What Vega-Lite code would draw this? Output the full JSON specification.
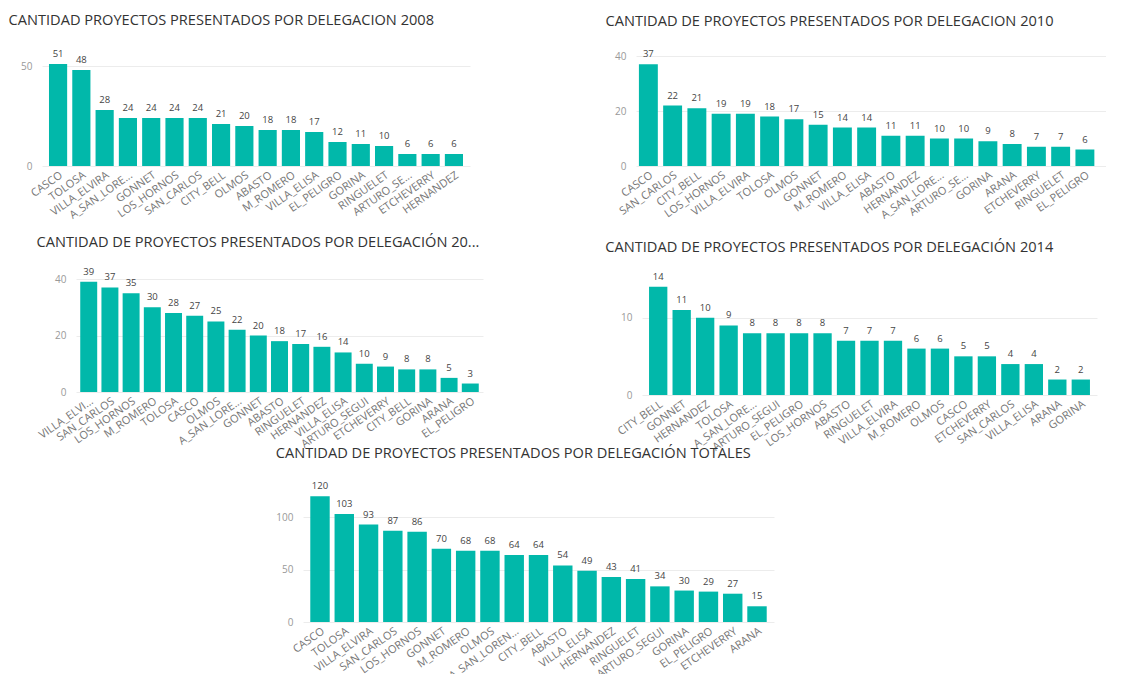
{
  "$schema": "https://vega.github.io/schema/vega-lite/v6.json",
  "padding": {"left": 8, "top": 13, "right": 0, "bottom": 0},
  "background": "white",
  "datasets": {
    "y2008": [
      {"delegacion": "CASCO", "proyectos": 51},
      {"delegacion": "TOLOSA", "proyectos": 48},
      {"delegacion": "VILLA_ELVIRA", "proyectos": 28},
      {"delegacion": "A_SAN_LORENZO", "proyectos": 24},
      {"delegacion": "GONNET", "proyectos": 24},
      {"delegacion": "LOS_HORNOS", "proyectos": 24},
      {"delegacion": "SAN_CARLOS", "proyectos": 24},
      {"delegacion": "CITY_BELL", "proyectos": 21},
      {"delegacion": "OLMOS", "proyectos": 20},
      {"delegacion": "ABASTO", "proyectos": 18},
      {"delegacion": "M_ROMERO", "proyectos": 18},
      {"delegacion": "VILLA_ELISA", "proyectos": 17},
      {"delegacion": "EL_PELIGRO", "proyectos": 12},
      {"delegacion": "GORINA", "proyectos": 11},
      {"delegacion": "RINGUELET", "proyectos": 10},
      {"delegacion": "ARTURO_SEGUI", "proyectos": 6},
      {"delegacion": "ETCHEVERRY", "proyectos": 6},
      {"delegacion": "HERNANDEZ", "proyectos": 6}
    ],
    "y2010": [
      {"delegacion": "CASCO", "proyectos": 37},
      {"delegacion": "SAN_CARLOS", "proyectos": 22},
      {"delegacion": "CITY_BELL", "proyectos": 21},
      {"delegacion": "LOS_HORNOS", "proyectos": 19},
      {"delegacion": "VILLA_ELVIRA", "proyectos": 19},
      {"delegacion": "TOLOSA", "proyectos": 18},
      {"delegacion": "OLMOS", "proyectos": 17},
      {"delegacion": "GONNET", "proyectos": 15},
      {"delegacion": "M_ROMERO", "proyectos": 14},
      {"delegacion": "VILLA_ELISA", "proyectos": 14},
      {"delegacion": "ABASTO", "proyectos": 11},
      {"delegacion": "HERNANDEZ", "proyectos": 11},
      {"delegacion": "A_SAN_LORENZO", "proyectos": 10},
      {"delegacion": "ARTURO_SEGUI", "proyectos": 10},
      {"delegacion": "GORINA", "proyectos": 9},
      {"delegacion": "ARANA", "proyectos": 8},
      {"delegacion": "ETCHEVERRY", "proyectos": 7},
      {"delegacion": "RINGUELET", "proyectos": 7},
      {"delegacion": "EL_PELIGRO", "proyectos": 6}
    ],
    "y2012": [
      {"delegacion": "VILLA_ELVIRA", "proyectos": 39},
      {"delegacion": "SAN_CARLOS", "proyectos": 37},
      {"delegacion": "LOS_HORNOS", "proyectos": 35},
      {"delegacion": "M_ROMERO", "proyectos": 30},
      {"delegacion": "TOLOSA", "proyectos": 28},
      {"delegacion": "CASCO", "proyectos": 27},
      {"delegacion": "OLMOS", "proyectos": 25},
      {"delegacion": "A_SAN_LORENZO", "proyectos": 22},
      {"delegacion": "GONNET", "proyectos": 20},
      {"delegacion": "ABASTO", "proyectos": 18},
      {"delegacion": "RINGUELET", "proyectos": 17},
      {"delegacion": "HERNANDEZ", "proyectos": 16},
      {"delegacion": "VILLA_ELISA", "proyectos": 14},
      {"delegacion": "ARTURO_SEGUI", "proyectos": 10},
      {"delegacion": "ETCHEVERRY", "proyectos": 9},
      {"delegacion": "CITY_BELL", "proyectos": 8},
      {"delegacion": "GORINA", "proyectos": 8},
      {"delegacion": "ARANA", "proyectos": 5},
      {"delegacion": "EL_PELIGRO", "proyectos": 3}
    ],
    "y2014": [
      {"delegacion": "CITY_BELL", "proyectos": 14},
      {"delegacion": "GONNET", "proyectos": 11},
      {"delegacion": "HERNANDEZ", "proyectos": 10},
      {"delegacion": "TOLOSA", "proyectos": 9},
      {"delegacion": "A_SAN_LORENZO", "proyectos": 8},
      {"delegacion": "ARTURO_SEGUI", "proyectos": 8},
      {"delegacion": "EL_PELIGRO", "proyectos": 8},
      {"delegacion": "LOS_HORNOS", "proyectos": 8},
      {"delegacion": "ABASTO", "proyectos": 7},
      {"delegacion": "RINGUELET", "proyectos": 7},
      {"delegacion": "VILLA_ELVIRA", "proyectos": 7},
      {"delegacion": "M_ROMERO", "proyectos": 6},
      {"delegacion": "OLMOS", "proyectos": 6},
      {"delegacion": "CASCO", "proyectos": 5},
      {"delegacion": "ETCHEVERRY", "proyectos": 5},
      {"delegacion": "SAN_CARLOS", "proyectos": 4},
      {"delegacion": "VILLA_ELISA", "proyectos": 4},
      {"delegacion": "ARANA", "proyectos": 2},
      {"delegacion": "GORINA", "proyectos": 2}
    ],
    "totales": [
      {"delegacion": "CASCO", "proyectos": 120},
      {"delegacion": "TOLOSA", "proyectos": 103},
      {"delegacion": "VILLA_ELVIRA", "proyectos": 93},
      {"delegacion": "SAN_CARLOS", "proyectos": 87},
      {"delegacion": "LOS_HORNOS", "proyectos": 86},
      {"delegacion": "GONNET", "proyectos": 70},
      {"delegacion": "M_ROMERO", "proyectos": 68},
      {"delegacion": "OLMOS", "proyectos": 68},
      {"delegacion": "A_SAN_LORENZO", "proyectos": 64},
      {"delegacion": "CITY_BELL", "proyectos": 64},
      {"delegacion": "ABASTO", "proyectos": 54},
      {"delegacion": "VILLA_ELISA", "proyectos": 49},
      {"delegacion": "HERNANDEZ", "proyectos": 43},
      {"delegacion": "RINGUELET", "proyectos": 41},
      {"delegacion": "ARTURO_SEGUI", "proyectos": 34},
      {"delegacion": "GORINA", "proyectos": 30},
      {"delegacion": "EL_PELIGRO", "proyectos": 29},
      {"delegacion": "ETCHEVERRY", "proyectos": 27},
      {"delegacion": "ARANA", "proyectos": 15}
    ]
  },
  "vconcat": [
    {
      "vconcat": [
        {
          "hconcat": [
            {
              "title": {"text": "CANTIDAD PROYECTOS PRESENTADOS POR DELEGACION 2008", "dx": -12},
              "data": {"name": "y2008"},
              "width": 428,
              "height": 110,
              "encoding": {
                "x": {"field": "delegacion", "type": "nominal", "sort": null,
                      "scale": {"paddingInner": 0.22, "paddingOuter": 0.3},
                      "axis": {"labelExpr": "datum.label == 'A_SAN_LORENZO' ? 'A_SAN_LORE...' : datum.label == 'ARTURO_SEGUI' ? 'ARTURO_SE...' : datum.label"}},
                "y": {"field": "proyectos", "type": "quantitative", "scale": {"domain": [0, 55]}, "axis": {"values": [0, 50]}}
              },
              "layer": [
                {"mark": {"type": "bar"}},
                {"mark": {"type": "text"}, "encoding": {"text": {"field": "proyectos"}}}
              ]
            },
            {
              "title": {"text": "CANTIDAD DE PROYECTOS PRESENTADOS POR DELEGACION 2010", "dx": -9},
              "data": {"name": "y2010"},
              "width": 470,
              "height": 110,
              "encoding": {
                "x": {"field": "delegacion", "type": "nominal", "sort": null,
                      "scale": {"paddingInner": 0.22, "paddingOuter": 0.3, "align": 0.2},
                      "axis": {"labelExpr": "datum.label == 'A_SAN_LORENZO' ? 'A_SAN_LORE...' : datum.label == 'ARTURO_SEGUI' ? 'ARTURO_SE...' : datum.label"}},
                "y": {"field": "proyectos", "type": "quantitative", "scale": {"domain": [0, 40]}, "axis": {"values": [0, 20, 40]}}
              },
              "layer": [
                {"mark": {"type": "bar"}},
                {"mark": {"type": "text"}, "encoding": {"text": {"field": "proyectos"}}}
              ]
            }
          ],
          "spacing": 135
        },
        {
          "hconcat": [
            {
              "hconcat": [
                {
                  "width": 1,
                  "height": 10,
                  "data": {"values": []},
                  "mark": {"type": "point", "opacity": 0}
                },
                {
                  "title": {"text": "CANTIDAD DE PROYECTOS PRESENTADOS POR DELEGACIÓN 20...", "offset": 17},
                  "data": {"name": "y2012"},
                  "width": 407,
                  "height": 113,
                  "encoding": {
                    "x": {"field": "delegacion", "type": "nominal", "sort": null,
                          "scale": {"paddingInner": 0.2, "paddingOuter": 0.2},
                          "axis": {"labelExpr": "datum.label == 'A_SAN_LORENZO' ? 'A_SAN_LORE...' : datum.label == 'VILLA_ELVIRA' ? 'VILLA_ELVI...' : datum.label"}},
                    "y": {"field": "proyectos", "type": "quantitative", "scale": {"domain": [0, 40]}, "axis": {"values": [0, 20, 40]}}
                  },
                  "layer": [
                    {"mark": {"type": "bar"}},
                    {"mark": {"type": "text"}, "encoding": {"text": {"field": "proyectos"}}}
                  ]
                }
              ],
              "spacing": -7
            },
            {
              "title": {"text": "CANTIDAD DE PROYECTOS PRESENTADOS POR DELEGACIÓN 2014", "dx": -10, "offset": 17},
              "data": {"name": "y2014"},
              "width": 455,
              "height": 116,
              "encoding": {
                "x": {"field": "delegacion", "type": "nominal", "sort": null,
                      "scale": {"paddingInner": 0.22, "paddingOuter": 0.3},
                      "axis": {"labelExpr": "datum.label == 'A_SAN_LORENZO' ? 'A_SAN_LORE...' : datum.label"}},
                "y": {"field": "proyectos", "type": "quantitative", "scale": {"domain": [0, 15]}, "axis": {"values": [0, 10]}}
              },
              "layer": [
                {"mark": {"type": "bar"}},
                {"mark": {"type": "text"}, "encoding": {"text": {"field": "proyectos"}}}
              ]
            }
          ],
          "spacing": 122
        }
      ],
      "spacing": 14
    },
    {
      "hconcat": [
        {
          "width": 233,
          "height": 10,
          "data": {"values": []},
          "mark": {"type": "point", "opacity": 0}
        },
        {
          "title": {"text": "CANTIDAD DE PROYECTOS PRESENTADOS POR DELEGACIÓN TOTALES"},
          "data": {"name": "totales"},
          "width": 471,
          "height": 131,
          "encoding": {
            "x": {"field": "delegacion", "type": "nominal", "sort": null,
                  "scale": {"paddingInner": 0.2, "paddingOuter": 0.3},
                  "axis": {"labelExpr": "datum.label == 'A_SAN_LORENZO' ? 'A_SAN_LOREN...' : datum.label"}},
            "y": {"field": "proyectos", "type": "quantitative", "scale": {"domain": [0, 125]}, "axis": {"values": [0, 50, 100]}}
          },
          "layer": [
            {"mark": {"type": "bar"}},
            {"mark": {"type": "text"}, "encoding": {"text": {"field": "proyectos"}}}
          ]
        }
      ],
      "spacing": 0
    }
  ],
  "spacing": -8,
  "config": {
    "font": "Open Sans",
    "view": {"stroke": null},
    "title": {"anchor": "start", "fontSize": 14.6, "fontWeight": "normal", "color": "#333333", "offset": 21, "font": "Open Sans"},
    "axis": {"domain": false, "ticks": false, "title": null, "labelColor": "#777777", "labelFontSize": 11, "labelFont": "Open Sans", "gridColor": "#ececec"},
    "axisX": {"grid": false, "labelAngle": -35, "labelPadding": 3, "labelOverlap": false},
    "axisY": {"labelPadding": 10, "labelFontSize": 10, "labelColor": "#999999"},
    "bar": {"color": "#01B8AA"},
    "text": {"baseline": "bottom", "dy": -5, "fontSize": 9.5, "color": "#444444"},
    "concat": {"spacing": 10}
  }
}
